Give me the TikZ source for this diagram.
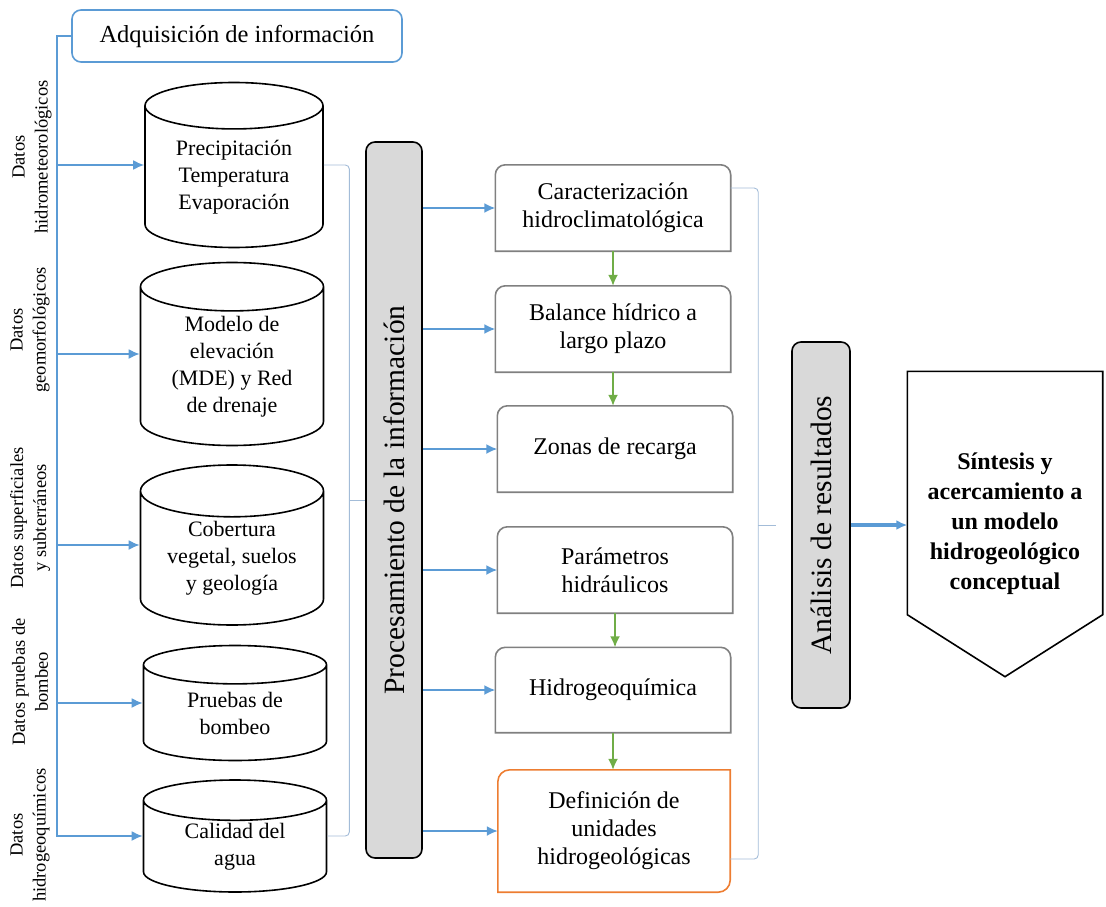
\documentclass[tikz,border=0pt]{standalone}
\usepackage{fontspec}
\setmainfont{Liberation Serif}
\usetikzlibrary{arrows.meta,shapes.geometric}

\definecolor{ofblue}{HTML}{5B9BD5}
\definecolor{ofgreen}{HTML}{70AD47}
\definecolor{oforange}{HTML}{ED7D31}
\definecolor{brcol}{HTML}{A3BCD8}
\definecolor{boxgray}{HTML}{808080}
\definecolor{barfill}{HTML}{D9D9D9}

\tikzset{
  cyl/.style={cylinder, shape border rotate=90, draw, line width=1.6pt, aspect=0.4,
    anchor=shape center, align=center, inner sep=0pt, font=\fontsize{22}{27}\selectfont},
  side/.style={rotate=90, align=center, font=\fontsize{18.5}{23}\selectfont},
  res/.style={minimum width=235pt, minimum height=86pt, inner sep=0pt, align=center,
    font=\fontsize{24}{28}\selectfont},
  boxline/.style={boxgray, line width=1.6pt},
  bar/.style={draw, line width=1.6pt, fill=barfill, rounded corners=9pt, rotate=90,
    inner sep=0pt, font=\fontsize{29.5}{33}\selectfont},
  bluearrow/.style={-{Latex[length=11pt,width=10pt]}, ofblue, line width=1.8pt},
  greenarrow/.style={-{Latex[length=11pt,width=10pt]}, ofgreen, line width=1.8pt},
  brc/.style={brcol, line width=0.9pt, rounded corners=4pt}
}

\begin{document}
\begin{tikzpicture}[x=1pt, y=-1pt]
\useasboundingbox (0,0) rectangle (1106,907);

% adquisicion
\node[draw=ofblue, line width=1.6pt, rounded corners=9pt, minimum width=330pt,
  minimum height=52pt, font=\fontsize{24.5}{28}\selectfont] (adq) at (237,36) {Adquisición de información};

\node[side] (l1) at (32,157) {Datos\\hidrometeorológicos};
\node[side] (l2) at (30,330) {Datos\\geomorfológicos};
\node[side] (l3) at (30,518) {Datos superficiales\\y subterráneos};
\node[side] (l4) at (30,682) {Datos pruebas de\\bombeo};
\node[side] (l5) at (30,835) {Datos\\hidrogeoquímicos};

\node[cyl, minimum width=178pt, minimum height=165pt] (prec) at (234,165) {Precipitación\\Temperatura\\Evaporación};
\node[cyl, minimum width=183pt, minimum height=183pt] (mod) at (232,354) {Modelo de\\elevación\\(MDE) y Red\\de drenaje};
\node[cyl, minimum width=183pt, minimum height=160pt] (cob) at (232,545) {Cobertura\\vegetal, suelos\\y geología};
\node[cyl, minimum width=183pt, minimum height=115pt] (pru) at (235,703) {Pruebas de\\bombeo};
\node[cyl, minimum width=183pt, minimum height=112pt] (cal) at (235,836) {Calidad del\\agua};

\coordinate (spine) at (57,36);
\draw[bluearrow] (adq.west) -| (spine |- cal.shape center) -- (cal.shape center -| cal.west);
\foreach \n in {prec,mod,cob,pru}
  \draw[bluearrow] (spine |- \n.shape center) -- (\n.shape center -| \n.west);

% procesamiento
\node[bar, minimum width=716pt, minimum height=56pt] (proc) at (394,500) {Procesamiento de la información};
\draw[brc] (prec.shape center -| prec.east) -| ([xshift=22pt]cal.shape center -| cal.east) -- (cal.shape center -| cal.east);
\draw[brc] ([xshift=22pt]cal.east |- proc.north) -- (proc.north);

\node[res] (car) at (613,208) {Caracterización\\hidroclimatológica};
\node[res] (bal) at (613,329) {Balance hídrico a\\largo plazo};
\node[res] (zon) at (615,449) {Zonas de recarga};
\node[res] (par) at (615,570) {Parámetros\\hidráulicos};
\node[res, minimum height=85pt] (hid) at (613,690) {Hidrogeoquímica};
\node[res, minimum width=232pt, minimum height=122pt] (def) at (614,831) {Definición de\\unidades\\hidrogeológicas};

\foreach \n in {car,bal,zon,par,hid}
  \draw[boxline] (\n.south west) -- ([yshift=-10pt]\n.north west) arc (180:90:10pt)
    -- ([xshift=-10pt]\n.north east) arc (90:0:10pt) -- (\n.south east) -- cycle;
\draw[boxline, oforange] ([yshift=-12pt]def.north west) arc (180:90:12pt) -- (def.north east)
  -- ([yshift=12pt]def.south east) arc (0:-90:12pt) -- (def.south west) -- cycle;

\foreach \n in {car,bal,zon,par,hid,def}
  \draw[bluearrow] (proc.south |- \n.west) -- (\n.west);
\draw[greenarrow] (car.south) -- (car.south |- bal.north);
\draw[greenarrow] (bal.south) -- (bal.south |- zon.north);
\draw[greenarrow] (par.south) -- (par.south |- hid.north);
\draw[greenarrow] (hid.south) -- (hid.south |- def.north);

% analisis
\node[bar, minimum width=366pt, minimum height=58pt] (ana) at (821,525) {Análisis de resultados};
\draw[brc] ([yshift=20pt]car.east) -| ([xshift=28pt,yshift=-28pt]def.east) -- ([yshift=-28pt]def.east);
\draw[brc] ([xshift=28pt]def.east |- ana.north) -- ++(18,0);

\node[minimum width=195pt, minimum height=305pt, inner sep=0pt, align=center,
  font=\bfseries\fontsize{24}{30}\selectfont] (syn) at (1005,524)
  {Síntesis y\\acercamiento a\\un modelo\\hidrogeológico\\conceptual};
\draw[line width=1.6pt] (syn.north west) -- (syn.north east) -- ([yshift=62pt]syn.south east)
  -- (syn.south) -- ([yshift=62pt]syn.south west) -- cycle;
\draw[bluearrow, line width=3.5pt] (ana.south) -- (ana.south -| syn.west);

\end{tikzpicture}
\end{document}
